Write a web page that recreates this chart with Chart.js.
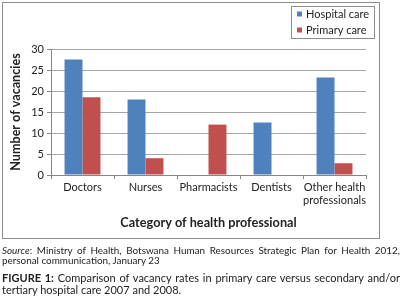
<!DOCTYPE html>
<html><head><meta charset="utf-8">
<script src="https://cdn.jsdelivr.net/npm/chart.js@4"></script>
<style>
html,body{margin:0;padding:0;background:#fff;width:403px;height:299px;overflow:hidden;font-family:Lato,"Open Sans",sans-serif;}
#wrap{position:absolute;left:0;top:0;width:403px;height:240px;}
#frame{position:absolute;left:2px;top:2px;width:376px;height:235px;border:1px solid #8c8c8c;pointer-events:none;}
#src{position:absolute;left:2px;top:245px;width:398px;font-size:9.9px;line-height:10px;color:#222;text-align:justify;text-align-last:left;}
#cap{position:absolute;left:2px;top:272px;width:398px;font-size:11px;line-height:12px;color:#222;text-align:justify;text-align-last:left;}
</style></head><body>
<div id="wrap"><canvas id="c" width="403" height="240"></canvas></div>
<div id="frame"></div>
<div id="src"><i>Source</i>: Ministry of Health, Botswana Human Resources Strategic Plan for Health 2012, personal communication, January 23</div>
<div id="cap"><b>FIGURE 1:</b> Comparison of vacancy rates in primary care versus secondary and/or tertiary hospital care 2007 and 2008.</div>
<script>
const categories = ["Doctors", "Nurses", "Pharmacists", "Dentists", ["Other health", "professionals"]];
const hospitalCare = [27.5, 18, 0, 12.5, 23.2];
const primaryCare = [18.5, 4, 12, 0, 2.8];
const yTicks = [0, 5, 10, 15, 20, 25, 30];

const boxLegend = {
  id: 'boxLegend',
  afterDraw(chart) {
    const ctx = chart.ctx;
    const x0 = 291, y0 = 6, w = 83, h = 32;
    ctx.save();
    ctx.strokeStyle = '#8c8c8c';
    ctx.lineWidth = 1;
    ctx.strokeRect(x0 + 0.5, y0 + 0.5, w, h);
    ctx.font = '11px Lato, sans-serif';
    ctx.textBaseline = 'middle';
    chart.data.datasets.forEach((ds, i) => {
      const cy = y0 + 8 + i * 16;
      ctx.fillStyle = ds.backgroundColor;
      ctx.fillRect(x0 + 6, cy - 2.5, 5, 5);
      ctx.fillStyle = '#222';
      ctx.fillText(ds.label, x0 + 15, cy);
    });
    ctx.restore();
  }
};

new Chart(document.getElementById('c'), {
  type: 'bar',
  data: {
    labels: categories,
    datasets: [
      {label: 'Hospital care', data: hospitalCare, backgroundColor: '#4F81BD'},
      {label: 'Primary care', data: primaryCare, backgroundColor: '#C0504D'}
    ]
  },
  options: {
    responsive: false,
    animation: false,
    devicePixelRatio: 1,
    layout: {padding: {left: 6, right: 37, top: 49, bottom: 5}},
    datasets: {bar: {categoryPercentage: 0.57, barPercentage: 1}},
    plugins: {legend: {display: false}, tooltip: {enabled: false}},
    scales: {
      x: {
        grid: {display: true, offset: true, drawOnChartArea: false, drawTicks: true, tickLength: 4, color: '#868686'},
        border: {color: '#868686'},
        ticks: {color: '#222', font: {family: 'Lato', size: 11}, padding: 2, maxRotation: 0, autoSkip: false},
        title: {display: true, text: 'Category of health professional', color: '#222', font: {family: 'Lato', size: 12.7, weight: 'bold'}, padding: {top: 6}},
        afterFit(s) { s.height = 60; }
      },
      y: {
        min: 0, max: 30,
        afterBuildTicks(s) { s.ticks = yTicks.map(v => ({value: v})); },
        grid: {color: '#a6a6a6', tickLength: 4, drawTicks: true, tickColor: '#868686'},
        border: {color: '#868686'},
        ticks: {color: '#222', font: {family: 'Lato', size: 11}, padding: 3},
        title: {display: true, text: 'Number of vacancies', color: '#222', font: {family: 'Lato', size: 12.6, weight: 'bold'}, padding: {top: 2, bottom: 0}},
        afterFit(s) { s.width = 45; }
      }
    }
  },
  plugins: [boxLegend]
});
</script>
</body></html>
